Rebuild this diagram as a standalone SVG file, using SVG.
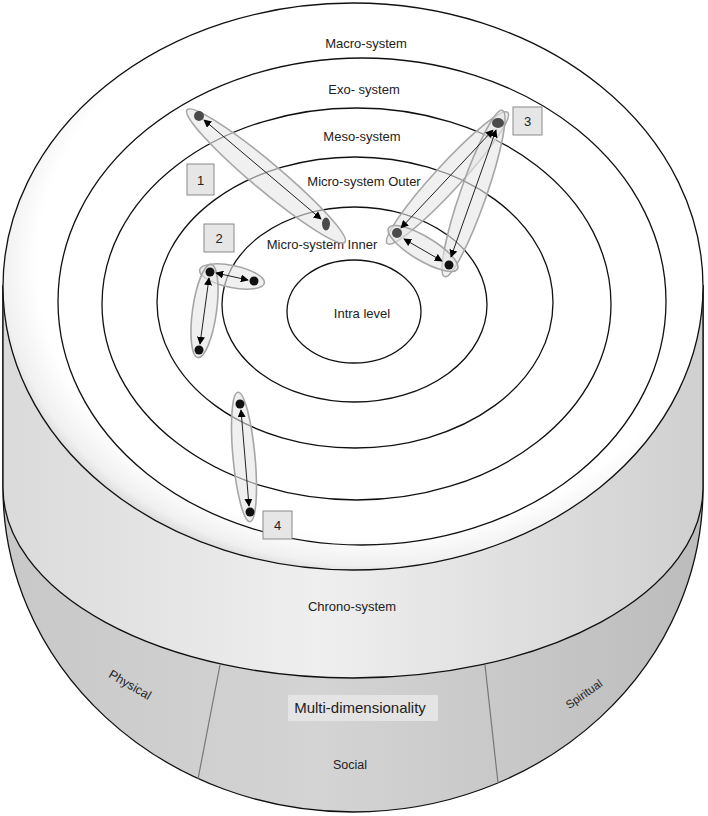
<svg xmlns="http://www.w3.org/2000/svg" width="708" height="816" viewBox="0 0 708 816">
<defs>
<linearGradient id="chronoFill" x1="0" y1="0" x2="1" y2="0">
<stop offset="0" stop-color="#dadada"/><stop offset="0.45" stop-color="#efefef"/><stop offset="1" stop-color="#d0d0d0"/>
</linearGradient>
<linearGradient id="baseFill" x1="0" y1="0" x2="1" y2="0">
<stop offset="0" stop-color="#c8c8c8"/><stop offset="0.45" stop-color="#d4d4d4"/><stop offset="1" stop-color="#bcbcbc"/>
</linearGradient>
<radialGradient id="topFill" cx="0.53" cy="0.46" r="0.56">
<stop offset="0.86" stop-color="#ffffff"/><stop offset="0.95" stop-color="#f0f0f0"/><stop offset="1" stop-color="#d2d2d2"/>
</radialGradient>
<marker id="ah" viewBox="0 0 10 10" refX="9" refY="5" markerWidth="8" markerHeight="8" orient="auto-start-reverse">
<path d="M0,0 L10,5 L0,10 Z" fill="#000"/>
</marker>
</defs>
<style>
.edge{stroke:#111;stroke-width:1.3}
.ring{fill:none;stroke:#111;stroke-width:1.3}
.lbl{font-family:"Liberation Sans",Arial,sans-serif;font-size:13px;fill:#222;text-anchor:middle}
.grp{fill:#e6e6e6;fill-opacity:.6;stroke:#a6a6a6;stroke-width:1.6}
.link{stroke:#222;stroke-width:1;fill:none;marker-start:url(#ah);marker-end:url(#ah)}
.dot{fill:#111}
.gdot{fill:#4a4a4a}
.box{fill:#e6e6e6;stroke:#8a8a8a;stroke-width:1}
.div{stroke:#777;stroke-width:1.2}
</style>

<g id="cylinder">
<path id="multi-dimensionality-band" class="edge" d="M3,286 L3,488 A350,324 0 0 0 703,488 L703,286 Z" fill="url(#baseFill)"/>
<path id="chrono-band" class="edge" d="M3,286 L3,488 A350,190 0 0 0 703,488 L703,286 Z" fill="url(#chronoFill)"/>
<line class="div" x1="220" y1="665" x2="198" y2="779"/>
<line class="div" x1="485" y1="665" x2="498" y2="783"/>
<ellipse id="macro-system" class="edge" cx="353" cy="286.5" rx="350" ry="283.5" fill="url(#topFill)"/>
</g>

<g id="rings">
<ellipse id="exo-system" class="ring" cx="362" cy="301.5" rx="304" ry="243.5"/>
<ellipse id="meso-system" class="ring" cx="356.5" cy="304" rx="254.5" ry="196"/>
<ellipse id="micro-outer" class="ring" cx="355" cy="302.5" rx="198" ry="145.5"/>
<ellipse id="micro-inner" class="ring" cx="354.5" cy="304.5" rx="132.5" ry="97.5"/>
<ellipse id="intra-level" class="ring" cx="354" cy="311.5" rx="67" ry="51.5"/>
</g>

<g id="labels">
<text class="lbl" x="366" y="48">Macro-system</text>
<text class="lbl" x="364" y="94">Exo- system</text>
<text class="lbl" x="362" y="141">Meso-system</text>
<text class="lbl" x="364" y="186">Micro-system Outer</text>
<text class="lbl" x="322" y="249">Micro-system Inner</text>
<text class="lbl" x="362" y="318">Intra level</text>
<text class="lbl" x="352" y="611">Chrono-system</text>
<rect x="288" y="695" width="150" height="26" fill="#e4e4e4"/>
<text class="lbl" x="360" y="713" style="font-size:15px">Multi-dimensionality</text>
<text class="lbl" x="350" y="769" style="font-size:12.5px">Social</text>
<text class="lbl" transform="translate(130,685) rotate(30)" y="4" style="font-size:12.5px">Physical</text>
<text class="lbl" transform="translate(584,694) rotate(-35)" y="4" style="font-size:11.5px">Spiritual</text>
</g>

<g id="group-1">
<ellipse class="grp" transform="translate(266,176) rotate(40)" rx="103" ry="14"/>
<rect class="box" x="187" y="164" width="27" height="31"/>
<text class="lbl" x="200.5" y="185">1</text>
</g>
<g id="group-2">
<ellipse class="grp" transform="translate(232,276.5) rotate(11.6)" rx="33" ry="11"/>
<ellipse class="grp" transform="translate(204.5,311) rotate(98)" rx="47" ry="12"/>
<rect class="box" x="204" y="224" width="30" height="28"/>
<text class="lbl" x="219" y="243">2</text>
</g>
<g id="group-3">
<ellipse class="grp" transform="translate(447.5,178) rotate(132.6)" rx="89" ry="13"/>
<ellipse class="grp" transform="translate(473.5,193.5) rotate(109.2)" rx="88" ry="13"/>
<ellipse class="grp" transform="translate(423,248.5) rotate(30.8)" rx="40" ry="12"/>
<rect class="box" x="513" y="107" width="29" height="28"/>
<text class="lbl" x="527.5" y="126">3</text>
</g>
<g id="group-4">
<ellipse class="grp" transform="translate(244,457) rotate(84.7)" rx="65" ry="11"/>
<rect class="box" x="263" y="511" width="29" height="28"/>
<text class="lbl" x="277.5" y="530">4</text>
</g>

<g id="connectors">
<line class="link" x1="204" y1="120" x2="321" y2="219"/>
<line class="link" x1="216" y1="273" x2="248" y2="280"/>
<line class="link" x1="209" y1="278" x2="200" y2="344"/>
<line class="link" x1="493" y1="130" x2="401" y2="228"/>
<line class="link" x1="496" y1="130" x2="451" y2="257"/>
<line class="link" x1="404" y1="239" x2="442" y2="261"/>
<line class="link" x1="241" y1="410" x2="249" y2="506"/>
</g>

<g id="points">
<circle class="gdot" cx="199" cy="116" r="5"/>
<ellipse class="gdot" cx="326" cy="224" rx="4" ry="6.5"/>
<circle class="dot" cx="210" cy="272" r="4.5"/>
<circle class="dot" cx="254" cy="281" r="4.5"/>
<circle class="dot" cx="199" cy="350" r="4.5"/>
<ellipse class="gdot" cx="498" cy="123" rx="6" ry="5"/>
<circle class="gdot" cx="397" cy="233" r="5"/>
<circle class="dot" cx="449" cy="265" r="4.5"/>
<circle class="dot" cx="240" cy="404" r="4.5"/>
<circle class="dot" cx="250" cy="512" r="4.5"/>
</g>
</svg>
